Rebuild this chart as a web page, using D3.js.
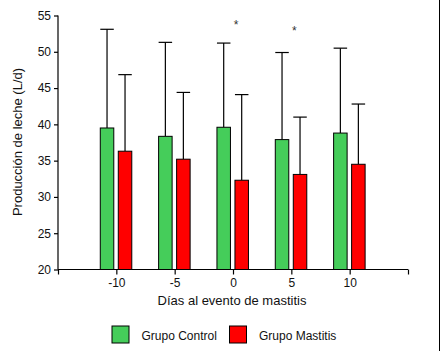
<!DOCTYPE html>
<html>
    <head>
        <meta charset="UTF-8">
        <script src="https://d3js.org/d3.v7.min.js"></script>
        <style>
            body { margin: 0; background: #fff; }
            text { font-family: Arial, "Liberation Sans", sans-serif; fill: #111; }
        </style>
    </head>

    <body>

        <svg id="canvas"></svg>

        <script>

            width = 440;
            height = 351;

            days = [-10, -5, 0, 5, 10];
            controlMean = [39.5, 38.35, 39.6, 37.9, 38.8];
            controlErr = [53.1, 51.3, 51.2, 49.9, 50.5];
            mastitisMean = [36.3, 35.2, 32.3, 33.1, 34.5];
            mastitisErr = [46.85, 44.4, 44.1, 41.0, 42.8];
            starDays = [0, 5];
            starValues = [54.0, 53.1];
            yTicks = [20, 25, 30, 35, 40, 45, 50, 55];
            xTicks = [-15, -10, -5, 0, 5, 10, 15];
            seriesNames = ["Grupo Control", "Grupo Mastitis"];
            seriesColors = ["#45cd5a", "#ff0000"];

            canvas = d3.select("#canvas")
                .attr("width", width)
                .attr("height", height);

            x = d3.scaleLinear()
                .domain([-15, 15])
                .range([58, 408]);

            y = d3.scaleLinear()
                .domain([20, 55])
                .range([269.5, 15.5]);

            barW = 13.5;
            offsets = [-9.3, 8.7];

            series = [
                {mean: controlMean, err: controlErr},
                {mean: mastitisMean, err: mastitisErr}
            ];

            // error bars go first so the bars sit on top of the whisker
            series.forEach((s, k) => {
                g = canvas.append("g");
                days.forEach((d, i) => {
                    cx = x(d) + offsets[k];
                    g.append("line")
                        .attr("x1", cx).attr("x2", cx)
                        .attr("y1", y(s.mean[i])).attr("y2", y(s.err[i]))
                        .attr("stroke", "#000").attr("stroke-width", 1.2);
                    g.append("line")
                        .attr("x1", cx - barW / 2).attr("x2", cx + barW / 2)
                        .attr("y1", y(s.err[i])).attr("y2", y(s.err[i]))
                        .attr("stroke", "#000").attr("stroke-width", 1.2);
                });
                g.selectAll("rect")
                    .data(days).enter()
                        .append("rect")
                            .attr("x", (d) => x(d) + offsets[k] - barW / 2)
                            .attr("y", (d, i) => y(s.mean[i]))
                            .attr("width", barW)
                            .attr("height", (d, i) => y(20) - y(s.mean[i]))
                            .attr("fill", seriesColors[k])
                            .attr("stroke", "#000")
                            .attr("stroke-width", 1);
            });

            yAxis = canvas.append("g")
                .attr("transform", "translate(" + x(-15) + ",0)")
                .call(d3.axisLeft(y).tickValues(yTicks).tickSize(4).tickPadding(3));

            xAxis = canvas.append("g")
                .attr("transform", "translate(0," + y(20) + ")")
                .call(d3.axisBottom(x).tickValues(xTicks).tickSize(5).tickPadding(4)
                    .tickFormat((d) => (Math.abs(d) == 15 ? "" : d)));

            [yAxis, xAxis].forEach((a) => {
                a.select(".domain").attr("stroke", "#000").attr("stroke-width", 1.2);
                a.selectAll(".tick line").attr("stroke", "#000").attr("stroke-width", 1.2);
                a.selectAll("text")
                    .attr("font-size", 12)
                    .attr("font-family", "Arial, 'Liberation Sans', sans-serif")
                    .attr("fill", "#111");
            });
            xAxis.select(".domain").attr("d", "M" + x(-15) + ",0H" + x(15));
            yAxis.select(".domain").attr("d", "M0," + y(20) + "V" + y(55));

            canvas.selectAll(".star")
                .data(starDays).enter()
                    .append("text")
                        .attr("class", "star")
                        .attr("x", (d) => x(d) + 3)
                        .attr("y", (d, i) => y(starValues[i]) + 6)
                        .attr("text-anchor", "middle")
                        .attr("font-size", 12)
                        .style("fill", "#333")
                        .text("*");

            canvas.append("text")
                .attr("x", 232)
                .attr("y", 305)
                .attr("text-anchor", "middle")
                .attr("font-size", 13)
                .text("Días al evento de mastitis");

            canvas.append("text")
                .attr("transform", "translate(22,142) rotate(-90)")
                .attr("text-anchor", "middle")
                .attr("font-size", 13)
                .text("Producción de leche (L/d)");

            legendX = [112, 229.5];
            legend = canvas.append("g");
            seriesNames.forEach((n, k) => {
                legend.append("rect")
                    .attr("x", legendX[k]).attr("y", 326)
                    .attr("width", 17).attr("height", 17)
                    .attr("fill", seriesColors[k])
                    .attr("stroke", "#000").attr("stroke-width", 1);
                legend.append("text")
                    .attr("x", legendX[k] + 29.5).attr("y", 340)
                    .attr("font-size", 12)
                    .text(n);
            });

            // frame line on the right edge
            canvas.append("line")
                .attr("x1", 439.5).attr("x2", 439.5)
                .attr("y1", 0).attr("y2", height)
                .attr("stroke", "#000").attr("stroke-width", 1);

        </script>

    </body>

</html>
